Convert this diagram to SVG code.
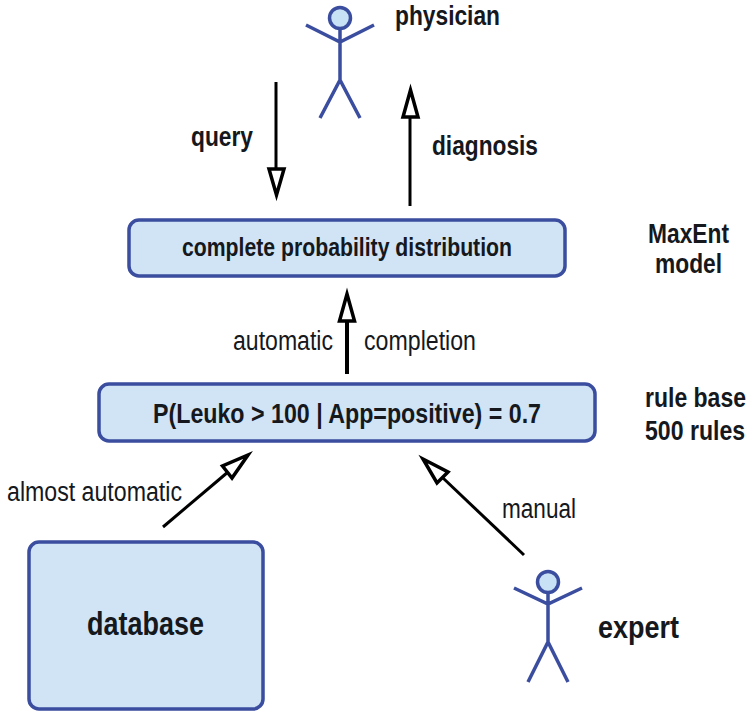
<svg xmlns="http://www.w3.org/2000/svg" width="755" height="717" viewBox="0 0 755 717">
<style>
.box{fill:#d0e4f6;stroke:#3a4d9f;stroke-width:3.5}
.head{fill:#c9e1f5;stroke:#3a4d9f;stroke-width:3.5}
.fig{fill:none;stroke:#3a4d9f;stroke-width:3.5}
.ln{fill:none;stroke:#000;stroke-width:3}
.hd{fill:#fff;stroke:#000;stroke-width:3.5;stroke-miterlimit:10}
text{font-family:"Liberation Sans",Arial,sans-serif;fill:#15181c}
.b{font-weight:bold}
</style>
<rect width="755" height="717" fill="#fff"/>
<g id="connectors">
<path class="ln" d="M276 82V170"/><polygon class="hd" points="269,169 284,169 276.500,195"/>
<path class="ln" d="M410 206V118"/><polygon class="hd" points="403,117 418,117 410.500,90"/>
<path class="ln" style="stroke-width:4" d="M347 374V322"/><polygon class="hd" points="339.500,321 354.500,321 347,294"/>
<path class="ln" d="M163 527L228 472"/><polygon class="hd" points="222.500,466 232,478 248,455"/>
<path class="ln" d="M524 555L443 478"/><polygon class="hd" points="448,472 437,483 423,459"/>
</g>
<g id="physician">
<circle class="head" cx="340" cy="18" r="10.500"/>
<path class="fig" d="M306 25L340 42L374 25M340 29V80M320 118L340 80L360 118"/>
<text class="b" x="395" y="24.500" font-size="27" textLength="105" lengthAdjust="spacingAndGlyphs">physician</text>
</g>
<g id="query-label"><text class="b" x="191" y="146" font-size="27" textLength="62" lengthAdjust="spacingAndGlyphs">query</text></g>
<g id="diagnosis-label"><text class="b" x="432" y="155" font-size="27" textLength="106" lengthAdjust="spacingAndGlyphs">diagnosis</text></g>
<g id="distribution">
<rect class="box" x="129" y="220" width="436" height="56" rx="10"/>
<text class="b" x="182" y="256" font-size="25" textLength="330" lengthAdjust="spacingAndGlyphs">complete probability distribution</text>
</g>
<g id="maxent-label">
<text class="b" x="648" y="243" font-size="27" textLength="81" lengthAdjust="spacingAndGlyphs">MaxEnt</text>
<text class="b" x="655" y="273" font-size="27" textLength="67" lengthAdjust="spacingAndGlyphs">model</text>
</g>
<g id="completion-labels">
<text x="233" y="350" font-size="27" textLength="100" lengthAdjust="spacingAndGlyphs">automatic</text>
<text x="364" y="350" font-size="27" textLength="112" lengthAdjust="spacingAndGlyphs">completion</text>
</g>
<g id="rule">
<rect class="box" x="99" y="384" width="496" height="57" rx="10"/>
<text class="b" x="153" y="423" font-size="28" textLength="388" lengthAdjust="spacingAndGlyphs">P(Leuko &gt; 100 | App=positive) = 0.7</text>
</g>
<g id="rulebase-label">
<text class="b" transform="translate(645 407) scale(.852 1)" font-size="27">rule base</text>
<text class="b" transform="translate(645 440) scale(.855 1)" font-size="27">500 rules</text>
</g>
<g id="almost-label"><text x="7" y="501" font-size="27" textLength="175" lengthAdjust="spacingAndGlyphs">almost automatic</text></g>
<g id="manual-label"><text x="502" y="518" font-size="27" textLength="74" lengthAdjust="spacingAndGlyphs">manual</text></g>
<g id="database">
<rect class="box" x="29" y="542" width="234" height="167" rx="10"/>
<text class="b" x="87" y="635" font-size="33" textLength="117" lengthAdjust="spacingAndGlyphs">database</text>
</g>
<g id="expert">
<circle class="head" cx="548" cy="582" r="10.500"/>
<path class="fig" d="M514 588L548 604L582 588M548 593V642M528 682L548 642L568 682"/>
<text class="b" x="598" y="638" font-size="32" textLength="81" lengthAdjust="spacingAndGlyphs">expert</text>
</g>
</svg>
